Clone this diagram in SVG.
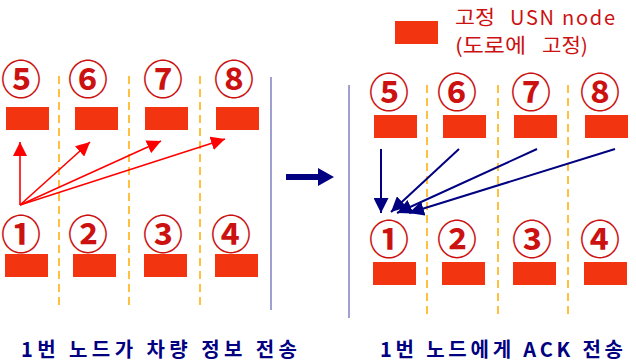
<svg xmlns="http://www.w3.org/2000/svg" width="636" height="363" viewBox="0 0 636 363">
<defs>
<style>
.node{fill:#F23411}
.num{font-family:"Noto Sans CJK KR","DejaVu Sans",sans-serif;font-weight:bold;font-size:40px;fill:#CC1111;text-anchor:middle;dominant-baseline:central}
.dash{stroke:#FFC040;stroke-width:2;stroke-dasharray:8 5;fill:none}
.sep{stroke:#A0A0D0;stroke-width:2;fill:none}
.red{stroke:#FF0000;stroke-width:1.6;fill:none;marker-end:url(#ah-red)}
.blue{stroke:#000080;stroke-width:2;fill:none;marker-end:url(#ah-blue)}
.cap{font-family:"Noto Sans CJK KR",sans-serif;font-weight:bold;font-size:20px;fill:#000080}
.leg{font-family:"Noto Sans CJK KR",sans-serif;font-size:20px;fill:#CC1111}
</style>
<marker id="ah-red" viewBox="0 0 10 10" refX="10" refY="5" markerWidth="14" markerHeight="14" markerUnits="userSpaceOnUse" orient="auto">
<path d="M0,0 L10,5 L0,10 Z" fill="#FF0000"/>
</marker>
<marker id="ah-blue" viewBox="0 0 10 10" refX="10" refY="5" markerWidth="15" markerHeight="15" markerUnits="userSpaceOnUse" orient="auto">
<path d="M0,0 L10,5 L0,10 Z" fill="#000080"/>
</marker>
</defs>

<g id="grid">
<line class="dash" x1="59" y1="76" x2="59" y2="307"/>
<line class="dash" x1="129" y1="76" x2="129" y2="307"/>
<line class="dash" x1="200" y1="76" x2="200" y2="307"/>
<line class="sep" x1="271" y1="77" x2="271" y2="310"/>
<line class="dash" x1="427" y1="85" x2="427" y2="317"/>
<line class="dash" x1="498" y1="85" x2="498" y2="317"/>
<line class="dash" x1="568" y1="85" x2="568" y2="317"/>
<line class="sep" x1="349" y1="85" x2="349" y2="318"/>
</g>

<g id="legend">
<rect class="node" x="395" y="21" width="43" height="23"/>
<text class="leg" y="25"><tspan x="455" textLength="40" lengthAdjust="spacingAndGlyphs">고정</tspan><tspan x="510" textLength="105" lengthAdjust="spacing">USN node</tspan></text>
<text class="leg" y="53"><tspan x="455" textLength="71" lengthAdjust="spacingAndGlyphs">(도로에</tspan><tspan x="542" textLength="46" lengthAdjust="spacingAndGlyphs">고정)</tspan></text>
</g>

<g id="left-5"><text class="num" x="21" y="77">⑤</text><rect class="node" x="6" y="107" width="43" height="23"/></g>
<g id="left-6"><text class="num" x="88" y="77">⑥</text><rect class="node" x="75" y="107" width="43" height="23"/></g>
<g id="left-7"><text class="num" x="163" y="77">⑦</text><rect class="node" x="145" y="107" width="43" height="23"/></g>
<g id="left-8"><text class="num" x="234" y="77">⑧</text><rect class="node" x="216" y="107" width="43" height="23"/></g>
<g id="left-1"><text class="num" x="21" y="232">①</text><rect class="node" x="5" y="254" width="43" height="23"/></g>
<g id="left-2"><text class="num" x="88" y="232">②</text><rect class="node" x="73" y="254" width="43" height="23"/></g>
<g id="left-3"><text class="num" x="163" y="232">③</text><rect class="node" x="144" y="254" width="43" height="23"/></g>
<g id="left-4"><text class="num" x="231" y="232">④</text><rect class="node" x="215" y="254" width="43" height="23"/></g>

<g id="right-5"><text class="num" x="389" y="90">⑤</text><rect class="node" x="374" y="115" width="43" height="23"/></g>
<g id="right-6"><text class="num" x="457" y="90">⑥</text><rect class="node" x="443" y="115" width="43" height="23"/></g>
<g id="right-7"><text class="num" x="531" y="90">⑦</text><rect class="node" x="514" y="115" width="43" height="23"/></g>
<g id="right-8"><text class="num" x="600" y="90">⑧</text><rect class="node" x="585" y="115" width="43" height="23"/></g>
<g id="right-1"><text class="num" x="389" y="237">①</text><rect class="node" x="373" y="262" width="43" height="23"/></g>
<g id="right-2"><text class="num" x="457" y="237">②</text><rect class="node" x="442" y="262" width="43" height="23"/></g>
<g id="right-3"><text class="num" x="532" y="237">③</text><rect class="node" x="513" y="262" width="43" height="23"/></g>
<g id="right-4"><text class="num" x="600" y="237">④</text><rect class="node" x="584" y="262" width="43" height="23"/></g>

<g id="connectors">
<line class="red" x1="20" y1="205" x2="20" y2="142"/>
<line class="red" x1="20" y1="205" x2="90" y2="142"/>
<line class="red" x1="20" y1="205" x2="161" y2="141"/>
<line class="red" x1="20" y1="205" x2="225" y2="139"/>
<line class="blue" x1="381" y1="149" x2="381" y2="213"/>
<line class="blue" x1="459" y1="149" x2="391" y2="212"/>
<line class="blue" x1="537" y1="149" x2="397" y2="213"/>
<line class="blue" x1="615" y1="149" x2="409" y2="213"/>
<path d="M286,174 L318,174 L318,168 L334,177 L318,186 L318,180 L286,180 Z" fill="#000080"/>
</g>

<g id="captions">
<text class="cap" x="21" y="357" textLength="276" lengthAdjust="spacing">1번 노드가 차량 정보 전송</text>
<text class="cap" x="380" y="357" textLength="243" lengthAdjust="spacing">1번 노드에게 ACK 전송</text>
</g>
</svg>
